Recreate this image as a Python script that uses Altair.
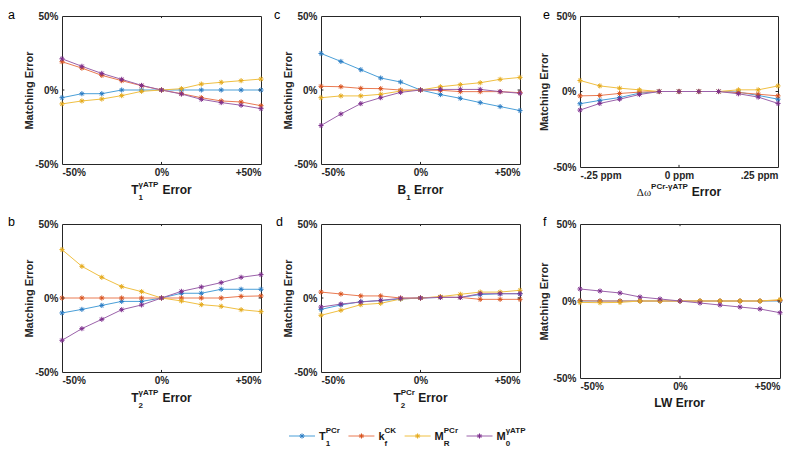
import altair as alt
import pandas as pd

# ---------------- data ----------------
X_PCT = [-50, -40, -30, -20, -10, 0, 10, 20, 30, 40, 50]
X_PPM = [-0.25, -0.20, -0.15, -0.10, -0.05, 0.0, 0.05, 0.10, 0.15, 0.20, 0.25]

SERIES = ["T1_PCr", "kf_CK", "MR_PCr", "M0_gATP"]
LINE_COLORS = ["#4A9FD8", "#EA7A52", "#F0C043", "#9B62AA"]
MARK_COLORS = ["#2A7CC4", "#D9531E", "#E5AA1C", "#7E2F8E"]

# panel a : T1 gATP error
A_T1 = [-5.2, -2.5, -2.5, 0.0, 0.0, 0.0, 0.0, 0.0, 0.0, 0.0, 0.0]
A_KF = [19.1, 14.8, 9.9, 6.3, 2.9, 0.0, -2.5, -5.2, -7.4, -8.1, -10.6]
A_MR = [-9.4, -7.4, -6.1, -3.8, -0.9, 0.0, 0.9, 4.0, 5.2, 6.3, 7.4]
A_M0 = [21.1, 16.0, 11.2, 7.2, 3.1, 0.0, -2.7, -6.3, -8.5, -10.3, -12.6]

# panel b : T2 gATP error
B_T1 = [-10.1, -7.7, -5.0, -2.3, -2.3, 0.0, 3.2, 3.2, 5.9, 5.9, 5.9]
B_KF = [0.0, 0.0, 0.0, 0.0, 0.0, 0.0, 0.0, 0.0, 0.0, 1.1, 1.4]
B_MR = [32.7, 21.4, 14.0, 7.7, 4.3, 0.0, -2.0, -4.5, -5.6, -7.9, -9.2]
B_M0 = [-28.6, -20.7, -14.4, -7.9, -4.7, 0.0, 4.5, 7.4, 10.4, 14.0, 15.8]

# panel c : B1 error
C_T1 = [24.7, 19.3, 13.7, 8.1, 5.4, 0.0, -3.1, -5.6, -8.5, -11.2, -13.9]
C_KF = [2.5, 2.2, 1.1, 0.9, 0.0, 0.0, -0.2, -1.1, -1.1, -1.1, -1.8]
C_MR = [-5.2, -4.0, -4.0, -2.9, -0.7, 0.0, 2.2, 3.6, 4.9, 7.2, 8.5]
C_M0 = [-24.0, -16.2, -9.2, -5.2, -1.6, 0.0, 0.4, 0.4, 0.4, -1.1, -2.2]

# panel d : T2 PCr error
D_T1 = [-7.7, -4.7, -2.5, -1.8, -0.7, 0.0, 0.4, 0.4, 2.3, 2.9, 2.9]
D_KF = [4.0, 2.7, 1.4, 1.4, 0.0, 0.0, 0.7, 0.4, -0.9, -0.9, -0.9]
D_MR = [-11.7, -8.3, -4.5, -3.6, -0.7, 0.0, 0.9, 2.5, 4.0, 4.0, 5.2]
D_M0 = [-6.1, -4.1, -2.7, -1.6, -0.2, 0.0, 0.4, 0.4, 2.9, 2.9, 2.9]

# panel e : delta omega error
E_T1 = [-8.1, -5.9, -4.0, -1.1, 0.0, 0.0, 0.0, 0.0, -0.4, -2.6, -5.1]
E_KF = [-2.9, -2.6, -1.3, -0.4, 0.0, 0.0, 0.0, 0.0, -0.7, -1.8, -2.9]
E_MR = [7.3, 3.7, 2.2, 1.1, 0.0, 0.0, 0.0, 0.0, 1.1, 1.1, 3.7]
E_M0 = [-12.3, -7.9, -5.1, -2.0, 0.0, 0.0, 0.0, 0.0, -1.5, -3.7, -7.9]

# panel f : LW error
F_T1 = [0.0, 0.0, 0.0, 0.0, 0.0, 0.0, 0.0, 0.0, 0.0, 0.0, 0.0]
F_KF = [0.2, 0.0, 0.0, 0.0, 0.0, 0.0, 0.0, 0.0, 0.0, 0.0, 0.4]
F_MR = [-0.9, -1.1, -0.9, 0.0, 0.0, 0.0, 0.0, 0.0, 0.0, 0.0, 0.9]
F_M0 = [7.8, 6.5, 5.2, 2.6, 1.3, 0.0, -1.3, -2.6, -3.9, -5.2, -7.6]

Y_TICKS = [-50, 0, 50]
Y_TICK_LABELS = ["-50%", "0%", "50%"]
PCT_TICKS = [-50, 0, 50]
PCT_TICK_LABELS = ["-50%", "0%", "+50%"]
PPM_TICKS = [-0.25, 0, 0.25]
PPM_TICK_LABELS = ["-.25 ppm", "0 ppm", ".25 ppm"]

LEGEND_ITEMS = [("T", "1", "PCr"), ("k", "f", "CK"), ("M", "R", "PCr"), ("M", "0", "\u03b3ATP")]

# ---------------- styling helpers ----------------
FONT = "Liberation Sans"
SERIF = "Liberation Serif"
AX_COLOR = "#262626"
TXT_COLOR = "#1a1a1a"
ASTERISK = "M-1,0L1,0M0,-1L0,1M-0.7,-0.7L0.7,0.7M-0.7,0.7L0.7,-0.7"

W = {' ': .278, '-': .333, '%': .889, '+': .584, '.': .278,
     'A': .722, 'B': .722, 'C': .722, 'E': .667, 'K': .722, 'L': .611, 'M': .833,
     'P': .667, 'R': .722, 'T': .611, 'W': .944,
     'a': .556, 'c': .556, 'e': .556, 'f': .333, 'g': .611, 'h': .611, 'i': .278,
     'k': .556, 'm': .889, 'n': .611, 'o': .611, 'p': .611, 'r': .389, 't': .333,
     '\u03b3': .56}
for _d in "0123456789":
    W[_d] = .556
W_SERIF = {'\u0394': .612, '\u03c9': .686}


def tw(s, size, table=W):
    return sum(table.get(c, 0.6) for c in s) * size


def txt(s, x, y, size, font=FONT, weight="bold", color=TXT_COLOR, align="left"):
    return alt.Chart(pd.DataFrame({"t": [s]})).mark_text(
        align=align, baseline="alphabetic", font=font, fontSize=size,
        fontWeight=weight, color=color
    ).encode(text="t:N", x=alt.value(x), y=alt.value(y))


def rich_width(main, sub, sup, rest, big, small, main_table=W):
    return tw(main, big, main_table) + max(tw(sub, small), tw(sup, small)) + tw(rest, big)


def rich(x0, y, main, sub, sup, rest, big, small, sub_dy, sup_dy,
         main_font=FONT, main_weight="bold", main_table=W):
    layers = [txt(main, x0, y, big, font=main_font, weight=main_weight)]
    x = x0 + tw(main, big, main_table)
    if sub:
        layers.append(txt(sub, x, y + sub_dy, small))
    if sup:
        layers.append(txt(sup, x, y + sup_dy, small))
    x += max(tw(sub, small), tw(sup, small))
    if rest:
        stripped = rest.lstrip()
        x += tw(rest[:len(rest) - len(stripped)], big)
        layers.append(txt(stripped, x, y, big))
    return layers


def lab_expr(labels):
    return ("datum.value < 0 ? '%s' : (datum.value > 0 ? '%s' : '%s')"
            % (labels[0], labels[2], labels[1]))


def panel(letter, xs, series_vals, xticks, xlabels, title, w, h,
          letter_xy, ytp, title_dy, legend=False):
    rows = [{"x": x, "y": y, "s": s}
            for s, vals in zip(SERIES, series_vals) for x, y in zip(xs, vals)]
    df = pd.DataFrame(rows)
    xdom = [xticks[0], xticks[-1]]
    ydom = [Y_TICKS[0], Y_TICKS[-1]]
    xsc = alt.Scale(domain=xdom, nice=False, zero=False)
    ysc = alt.Scale(domain=ydom, nice=False, zero=False)
    xaxis = alt.Axis(values=xticks, labelExpr=lab_expr(xlabels), title=None,
                     domain=False, ticks=False, tickSize=0, grid=False,
                     labelPadding=3, labelFont=FONT, labelFontSize=10,
                     labelFontWeight="bold", labelColor=AX_COLOR)
    yaxis = alt.Axis(values=Y_TICKS, labelExpr=lab_expr(Y_TICK_LABELS),
                     title="Matching Error", domain=False, ticks=False,
                     tickSize=0, grid=False, labelPadding=4, labelFont=FONT,
                     labelFontSize=10, labelFontWeight="bold",
                     labelColor=AX_COLOR, titleFont=FONT, titleFontSize=11,
                     titleFontWeight="bold", titleColor=AX_COLOR,
                     titlePadding=ytp)
    base = alt.Chart(df)
    lines = base.mark_line(strokeWidth=1).encode(
        x=alt.X("x:Q", scale=xsc, axis=xaxis),
        y=alt.Y("y:Q", scale=ysc, axis=yaxis),
        color=alt.Color("s:N", scale=alt.Scale(domain=SERIES, range=LINE_COLORS),
                        legend=None),
    )
    pts = base.mark_point(shape=ASTERISK, size=26, filled=False,
                          strokeWidth=1, opacity=1).encode(
        x=alt.X("x:Q", scale=xsc),
        y=alt.Y("y:Q", scale=ysc),
        stroke=alt.Stroke("s:N", scale=alt.Scale(domain=SERIES, range=MARK_COLORS),
                          legend=None),
    )
    # inward tick marks at the centre of each axis
    xmid = (xdom[0] + xdom[1]) / 2
    tx = 0.012 * (xdom[1] - xdom[0])
    ty = 0.014 * (ydom[1] - ydom[0])
    tick_x = alt.Chart(pd.DataFrame({"x": [xmid, xmid], "y": [ydom[0], ydom[1]],
                                     "y2": [ydom[0] + ty, ydom[1] - ty]})).mark_rule(
        color=AX_COLOR, strokeWidth=1).encode(
        x=alt.X("x:Q", scale=xsc), y=alt.Y("y:Q", scale=ysc), y2="y2:Q")
    tick_y = alt.Chart(pd.DataFrame({"x": [xdom[0], xdom[1]],
                                     "x2": [xdom[0] + tx, xdom[1] - tx],
                                     "y": [0, 0]})).mark_rule(
        color=AX_COLOR, strokeWidth=1).encode(
        x=alt.X("x:Q", scale=xsc), x2="x2:Q", y=alt.Y("y:Q", scale=ysc))

    layers = [lines, pts, tick_x, tick_y]

    # x-axis title (rich text)
    tb = 12
    ts = 8
    mt = title.get("table", W)
    main_size = title.get("big_main", tb)
    width_t = (tw(title["main"], main_size, mt)
               + max(tw(title.get("sub", ""), ts), tw(title.get("sup", ""), ts))
               + (tw(" " + title["rest"], tb) if title.get("rest") else 0))
    x0 = w / 2 - width_t / 2
    yb = h + title_dy
    layers.append(txt(title["main"], x0, yb, main_size,
                      font=title.get("font", FONT), weight=title.get("weight", "bold")))
    xx = x0 + tw(title["main"], main_size, mt)
    if title.get("sub"):
        layers.append(txt(title["sub"], xx, yb + 5.5, ts))
    if title.get("sup"):
        layers.append(txt(title["sup"], xx, yb - 7, ts))
    xx += max(tw(title.get("sub", ""), ts), tw(title.get("sup", ""), ts))
    if title.get("rest"):
        xx += tw(" ", tb)
        layers.append(txt(title["rest"], xx, yb, tb))

    # panel letter
    layers.append(txt(letter, letter_xy[0], letter_xy[1], 12.5, weight="normal",
                      color="#000000"))

    if legend:
        lx = -32.0
        ly = 212
        for (main, sub, sup), lc, mc in zip(LEGEND_ITEMS, LINE_COLORS, MARK_COLORS):
            one = pd.DataFrame({"k": [0]})
            layers.append(alt.Chart(one).mark_rule(color=lc, strokeWidth=1).encode(
                x=alt.value(lx), x2=alt.value(lx + 26), y=alt.value(ly)))
            layers.append(alt.Chart(one).mark_point(
                shape=ASTERISK, size=26, filled=False, strokeWidth=1, opacity=1,
                stroke=mc).encode(x=alt.value(lx + 13), y=alt.value(ly)))
            layers += rich(lx + 30, ly + 3.5, main, sub, sup, "", 11, 8, 6, -6.5)
            lx += 30 + rich_width(main, sub, sup, "", 11, 8) + 8.5

    return alt.layer(*layers).properties(width=w, height=h)


pa = panel("a", X_PCT, [A_T1, A_KF, A_MR, A_M0], PCT_TICKS, PCT_TICK_LABELS,
           {"main": "T", "sub": "1", "sup": "\u03b3ATP", "rest": "Error"},
           199, 148, (-54, 3), 0, 30)
pc = panel("c", X_PCT, [C_T1, C_KF, C_MR, C_M0], PCT_TICKS, PCT_TICK_LABELS,
           {"main": "B", "sub": "1", "rest": "Error"},
           199, 148, (-47, 3), 0, 30)
pe = panel("e", X_PPM, [E_T1, E_KF, E_MR, E_M0], PPM_TICKS, PPM_TICK_LABELS,
           {"main": "\u0394\u03c9", "sup": "PCr-\u03b3ATP", "rest": "Error",
            "font": SERIF, "weight": "normal", "table": W_SERIF, "big_main": 11},
           198, 151, (-37, 3), 3, 29)
pb = panel("b", X_PCT, [B_T1, B_KF, B_MR, B_M0], PCT_TICKS, PCT_TICK_LABELS,
           {"main": "T", "sub": "2", "sup": "\u03b3ATP", "rest": "Error"},
           199, 148, (-54, 1.5), 0, 30)
pd_ = panel("d", X_PCT, [D_T1, D_KF, D_MR, D_M0], PCT_TICKS, PCT_TICK_LABELS,
            {"main": "T", "sub": "2", "sup": "PCr", "rest": "Error"},
            199, 148, (-45, 1.5), 0, 30, legend=True)
pf = panel("f", X_PCT, [F_T1, F_KF, F_MR, F_M0], PCT_TICKS, PCT_TICK_LABELS,
           {"main": "LW Error"},
           200, 154, (-37, 1.5), 3, 29)

chart = alt.concat(
    pa, pc, pe, pb, pd_, pf, columns=3, bounds="flush",
    spacing={"row": 57, "column": 60},
).properties(
    background="white",
    padding={"left": -1, "top": 0, "right": 0, "bottom": 0},
).configure_view(stroke=AX_COLOR, strokeWidth=1)

chart.save("out.html", embed_options={"renderer": "svg", "actions": False})
